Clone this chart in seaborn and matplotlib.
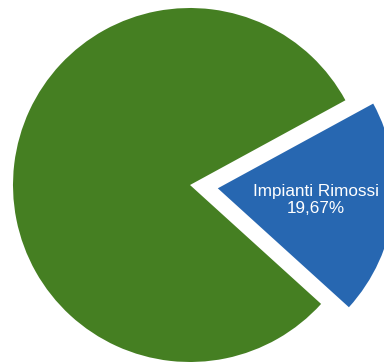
import matplotlib
matplotlib.use("Agg")
import matplotlib.pyplot as plt
import seaborn as sns

# Share of installations
categories = ["Altri impianti", "Impianti Rimossi"]
shares = [80.33, 19.67]
labelled = ["Impianti Rimossi"]

colors = ["#457F22", "#2767B1"]

sns.set_theme(style="white")
plt.rcParams["font.family"] = ["Liberation Sans", "DejaVu Sans"]

fig = plt.figure(figsize=(3.84, 3.62), dpi=100)
ax = fig.add_axes([0, 0, 1, 1])


def fmt_pct(pct, _it=iter(categories)):
    name = next(_it)
    if name not in labelled:
        return ""
    return f"{name}\n{pct:.2f}%".replace(".", ",")


# radius/center in axes data units (pixels); explode offset is in the same units
wedges, texts, autotexts = ax.pie(
    shares,
    colors=colors,
    startangle=28.6,
    counterclock=True,
    explode=[0, 28],
    radius=177,
    center=(190, 177),
    autopct=fmt_pct,
    pctdistance=0.56,
    wedgeprops=dict(linewidth=0),
    textprops=dict(color="white", fontsize=12.3, ha="center", va="center"),
)

ax.set_xlim(0, 384)
ax.set_ylim(0, 362)
ax.set_aspect("equal")
ax.axis("off")

fig.savefig("out.png", dpi=100)
